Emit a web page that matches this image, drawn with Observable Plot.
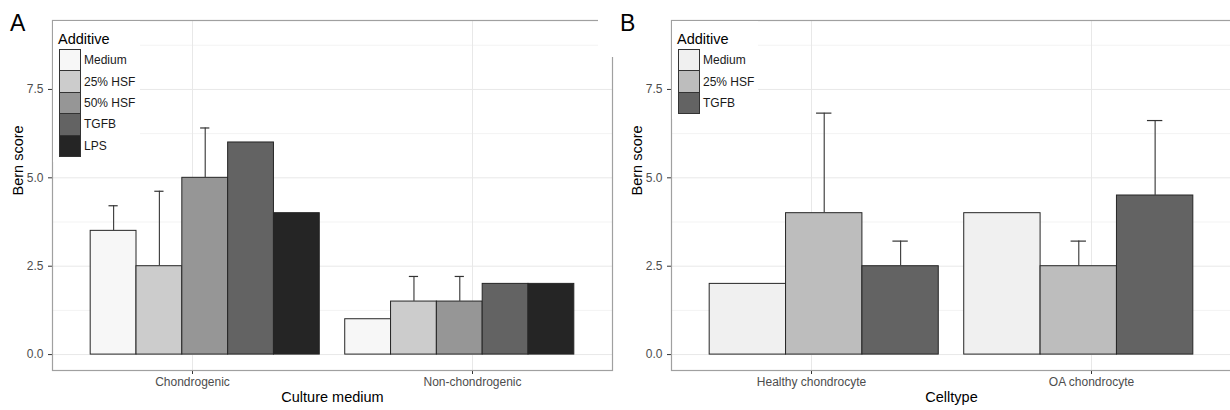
<!DOCTYPE html>
<html>
<head>
<meta charset="utf-8">
<script src="https://cdn.jsdelivr.net/npm/d3@7"></script>
<script src="https://cdn.jsdelivr.net/npm/@observablehq/plot@0.6"></script>
<style>
  html, body { margin: 0; padding: 0; background: #fff; }
  #root { position: relative; width: 1230px; height: 410px; overflow: hidden; font-family: "Liberation Sans", Arial, sans-serif; background: #fff; }
  .panel { position: absolute; top: 0; height: 410px; }
  .panel svg { position: absolute; left: 0; top: 0; max-width: none !important; }
  .plabel { position: absolute; font-size: 23px; line-height: 1; color: #000; }
  .legend { position: absolute; background: #fff; }
  .legend .title { position: absolute; font-size: 14.5px; color: #000; line-height: 1; white-space: nowrap; }
  .legend .key { position: absolute; box-sizing: border-box; border: 1px solid #333; }
  .legend .lab { position: absolute; font-size: 12px; color: #1a1a1a; line-height: 1; white-space: nowrap; display: flex; align-items: center; }
</style>
</head>
<body>
<div id="root"></div>
<script>
// ---------- Data: Panel A ----------
const categoriesA = ["Chondrogenic", "Non-chondrogenic"];
const additivesA = ["Medium", "25% HSF", "50% HSF", "TGFB", "LPS"];
const colorsA = ["#f7f7f7", "#cccccc", "#969696", "#636363", "#252525"];
const chondroValues = [3.5, 2.5, 5.0, 6.0, 4.0];
const chondroUpper = [4.21, 4.62, 6.41, null, null];
const nonChondroValues = [1.0, 1.5, 1.5, 2.0, 2.0];
const nonChondroUpper = [null, 2.21, 2.21, null, null];

// ---------- Data: Panel B ----------
const categoriesB = ["Healthy chondrocyte", "OA chondrocyte"];
const additivesB = ["Medium", "25% HSF", "TGFB"];
const colorsB = ["#f0f0f0", "#bdbdbd", "#636363"];
const healthyValues = [2.0, 4.0, 2.5];
const healthyUpper = [null, 6.83, 3.21];
const oaValues = [4.0, 2.5, 4.5];
const oaUpper = [null, 3.21, 6.62];

// ---------- Axis ticks ----------
const majorTicks = [0, 2.5, 5.0, 7.5];
const minorTicks = [1.25, 3.75, 6.25, 8.75];
const yDomain = [-0.45, 9.45];

function buildRows(categories, additives, valuesByCat, upperByCat) {
  return categories.flatMap((c, ci) => additives.map((a, ai) => ({
    category: c, additive: a, value: valuesByCat[ci][ai], upper: upperByCat[ci][ai]
  })));
}

const rowsA = buildRows(categoriesA, additivesA, [chondroValues, nonChondroValues], [chondroUpper, nonChondroUpper]);
const rowsB = buildRows(categoriesB, additivesB, [healthyValues, oaValues], [healthyUpper, oaUpper]);

const svgStyle = "font-family: 'Liberation Sans', Arial, sans-serif; font-size: 12px; background: transparent; overflow: visible; max-width: none;";

function panel({categories, additives, colors, rows, xLabel, width, marginLeft, marginRight, capInset}) {
  const common = {width, height: 410, marginTop: 20, marginBottom: 40, marginLeft, marginRight, style: svgStyle};
  const band = {paddingInner: 0.1, paddingOuter: 0.15, align: 0.5, round: false};
  // Background layer: grid, axes, titles, panel border
  const back = Plot.plot({
    ...common,
    x: {domain: categories, ...band, label: null},
    y: {domain: yDomain},
    marks: [
      Plot.gridY({ticks: minorTicks, stroke: "#f3f3f3", strokeOpacity: 1}),
      Plot.gridY({ticks: majorTicks, stroke: "#e8e8e8", strokeOpacity: 1}),
      Plot.gridX({stroke: "#e8e8e8", strokeOpacity: 1}),
      Plot.axisY({ticks: majorTicks, tickFormat: d3.format(".1f"), tickSize: 4, tickPadding: 5, label: null, fill: "#4d4d4d", stroke: "#333", fontSize: 12}),
      Plot.axisX({anchor: "bottom", tickSize: 4, tickPadding: 3, label: null, fill: "#4d4d4d", stroke: "#333", fontSize: 12}),
      Plot.text(["Bern score"], {frameAnchor: "left", rotate: -90, dx: -34, fontSize: 14.5, fill: "#000"}),
      Plot.text([xLabel], {frameAnchor: "bottom", dy: 31, fontSize: 14.5, fill: "#000"}),
      Plot.frame({stroke: "#a0a0a0", strokeWidth: 1.2})
    ]
  });
  // Foreground layer: grouped bars with error bars
  const errRows = rows.filter(d => d.upper != null);
  const front = Plot.plot({
    ...common,
    fx: {domain: categories, ...band, axis: null, label: null},
    x: {domain: additives, padding: 0, axis: null, round: false},
    y: {domain: yDomain, axis: null},
    color: {domain: additives, range: colors},
    marks: [
      Plot.barY(rows, {fx: "category", x: "additive", y: "value", fill: "additive", stroke: "#262626", strokeWidth: 1, inset: 0}),
      Plot.ruleX(errRows, {fx: "category", x: "additive", y1: "value", y2: "upper", stroke: "#444", strokeWidth: 1.2}),
      Plot.tickY(errRows, {fx: "category", x: "additive", y: "upper", stroke: "#333", strokeWidth: 1.2, insetLeft: capInset, insetRight: capInset})
    ]
  });
  return [back, front];
}

function legend(root, {left, top, bgW, bgH, additives, colors}) {
  const box = document.createElement("div");
  box.className = "legend";
  Object.assign(box.style, {left: left + "px", top: top + "px", width: bgW + "px", height: bgH + "px"});
  const title = document.createElement("div");
  title.className = "title";
  title.textContent = "Additive";
  Object.assign(title.style, {left: "5px", top: "11px"});
  box.appendChild(title);
  const keyH = 21.4;
  additives.forEach((a, i) => {
    const k = document.createElement("div");
    k.className = "key";
    Object.assign(k.style, {left: "6px", top: (28 + i * keyH) + "px", width: "22px", height: (keyH + 1) + "px", background: colors[i]});
    box.appendChild(k);
    const l = document.createElement("div");
    l.className = "lab";
    l.textContent = a;
    Object.assign(l.style, {left: "31px", top: (28 + i * keyH) + "px", height: (keyH + 1) + "px"});
    box.appendChild(l);
  });
  root.appendChild(box);
}

const root = document.getElementById("root");

function mount(svgs, left, width) {
  const wrap = document.createElement("div");
  wrap.className = "panel";
  wrap.style.left = left + "px";
  wrap.style.width = width + "px";
  svgs.forEach(s => wrap.appendChild(s));
  root.appendChild(wrap);
}

mount(panel({categories: categoriesA, additives: additivesA, colors: colorsA, rows: rowsA,
  xLabel: "Culture medium", width: 613, marginLeft: 52, marginRight: 1, capInset: 18.3}), 0, 613);

mount(panel({categories: categoriesB, additives: additivesB, colors: colorsB, rows: rowsB,
  xLabel: "Celltype", width: 618, marginLeft: 58, marginRight: 0, capInset: 30.5}), 613, 618);

legend(root, {left: 53, top: 21, bgW: 87, bgH: 141, additives: additivesA, colors: colorsA});
legend(root, {left: 672, top: 21, bgW: 86, bgH: 98, additives: additivesB, colors: colorsB});

// panel letters
const la = document.createElement("div");
la.className = "plabel"; la.textContent = "A";
Object.assign(la.style, {left: "10px", top: "12px"});
root.appendChild(la);

const bBox = document.createElement("div");
Object.assign(bBox.style, {position: "absolute", left: "598px", top: "0px", width: "70px", height: "57px", background: "#fff"});
const lb = document.createElement("div");
lb.className = "plabel"; lb.textContent = "B";
Object.assign(lb.style, {left: "22px", top: "12px"});
bBox.appendChild(lb);
root.appendChild(bBox);
</script>
</body>
</html>
